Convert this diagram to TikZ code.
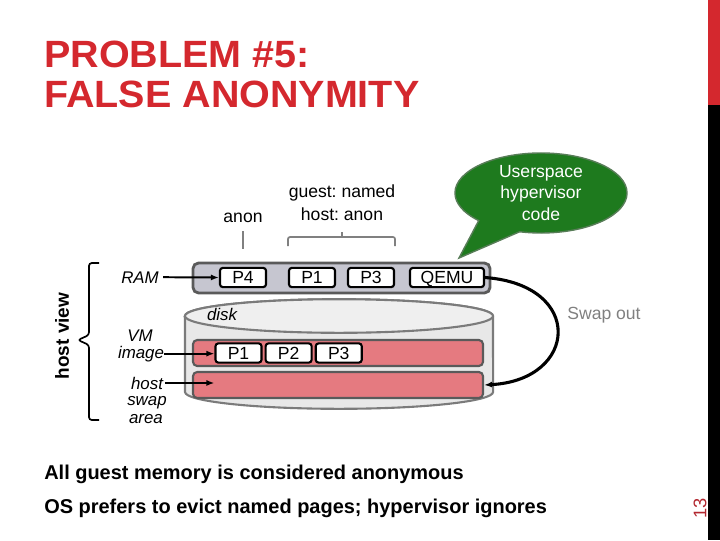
\documentclass[tikz,border=0pt]{standalone}
\usepackage{fontspec}
\setmainfont{Liberation Sans}
\usetikzlibrary{positioning,calc,shapes.callouts,arrows.meta}
\AtBeginDocument{\frenchspacing}

\definecolor{titlered}{RGB}{212,40,46}
\definecolor{pagered}{RGB}{178,40,48}
\definecolor{bubblegreen}{RGB}{30,122,30}
\definecolor{ramgray}{RGB}{198,198,208}
\definecolor{diskgray}{RGB}{232,232,232}
\definecolor{barpink}{RGB}{229,122,128}
\definecolor{edgegray}{RGB}{90,90,90}

\begin{document}
\begin{tikzpicture}[x=0.025cm, y=-0.025cm,
  >={Latex[length=2mm]},
  every node/.style={align=center},
  lbl/.style={font=\fontsize{12.5}{12.5}\selectfont, inner sep=0pt},
  ilbl/.style={font=\fontsize{12}{12}\selectfont\itshape, inner sep=0pt, anchor=base},
  pbox/.style={draw, line width=1.5pt, rounded corners=2pt, fill=white, font=\fontsize{12.5}{12.5}\selectfont,
               minimum width=1.15cm, minimum height=0.48cm, inner sep=0pt, text height=9pt, text depth=0pt},
  bar/.style={draw=edgegray, line width=1.5pt, fill=barpink, rounded corners=3pt,
              minimum width=7.25cm, minimum height=0.65cm, inner sep=0pt},
  bracket/.style={gray, line width=1.2pt, rounded corners=1.5pt},
  note/.style={font=\fontsize{14.2}{14.2}\selectfont\bfseries, inner sep=0pt, anchor=base west}
]
\useasboundingbox (0,0) rectangle (720,540);

% --- Title and slide frame ---
\node[anchor=north west, align=left, inner sep=0pt, xscale=1.04, text=titlered, font=\fontsize{27}{28.4}\selectfont\bfseries] (title) at (44,41)
  {PROBLEM \#5:\\FALSE ANONYMITY};
\fill[titlered] (708,0) rectangle (720,105);
\fill[black] (708,105) rectangle (720,540);
\node[rotate=90, text=pagered, font=\fontsize{13}{13}\selectfont, inner sep=0pt] (pagenum) at (700,508) {13};

% --- Disk cylinder ---
\draw[draw=edgegray!80, line width=1.5pt, fill=diskgray]
  (185,316) -- (185,392) arc[start angle=180, end angle=360, x radius=3.85cm, y radius=0.42cm]
  -- (493,316) arc[start angle=0, end angle=180, x radius=3.85cm, y radius=0.42cm] -- cycle;
\draw[draw=edgegray!80, line width=1.5pt, fill=diskgray!70] (339,316) ellipse[x radius=3.85cm, y radius=0.42cm];
\node[ilbl] (disk) at (222,320) {disk};

\node[bar] (vmbar) at (338,353) {};
\node[bar] (swapbar) at (338,385) {};

\node[pbox] (p1d) at (238.5,353) {P1};
\node[pbox, right=0.05cm of p1d] (p2d) {P2};
\node[pbox, right=0.05cm of p2d] (p3d) {P3};

% --- RAM ---
\node[draw=edgegray, line width=2pt, fill=ramgray, rounded corners=4pt, minimum width=7.425cm, minimum height=0.75cm] (ram) at (341.5,278) {};
\node[pbox] (p4) at (243,277.5) {P4};
\node[pbox] (p1) at (312,277.5) {P1};
\node[pbox] (p3) at (371,277.5) {P3};
\node[pbox, minimum width=1.85cm] (qemu) at (447,277.5) {QEMU};

% --- Left labels ---
\node[ilbl] (ramlbl) at (140,283) {RAM};
\node[ilbl] (vmlbl) at (140,341) {VM};
\node[ilbl] (imglbl) at (141,358) {image};
\node[ilbl] (hostlbl) at (147,389) {host};
\node[ilbl] (swaplbl) at (147,405) {swap};
\node[ilbl] (arealbl) at (146,423) {area};

\draw[->, line width=1.4pt] (ramlbl.east) ++(4,0) -- (p4.west);
\draw[->, line width=1.4pt] (imglbl.east) -- (imglbl.east -| p1d.west);
\draw[->, line width=1.4pt] (hostlbl.east) ++(2,0) -- (hostlbl.east -| p1d.west);

\draw[line width=1.2pt, rounded corners=2pt] (99,263) -- (89,263) -- (89,335) -- (78,340) -- (89,345) -- (89,420) -- (99,420);
\node[rotate=90, font=\fontsize{13.5}{13.5}\selectfont\bfseries, inner sep=0pt] (hostview) at (62,336) {host view};

% --- Page labels above RAM ---
\node[lbl] (anon) at (243,218) {anon};
\node[lbl] (guest) at (342,203) {guest: named\\[4pt]host: anon};
\draw[bracket] (anon.south) ++(0,8) -- ++(0,18);
\draw[bracket] (p1.west |- 0,246) -- (p1.west |- 0,237) -- (p3.east |- 0,237) -- (p3.east |- 0,246);
\draw[bracket] (guest.south |- 0,237) -- ++(0,-5);

% --- Callout ---
\node[ellipse callout, draw=gray!60!bubblegreen, line width=1pt, fill=bubblegreen, text=white,
      font=\fontsize{12.5}{15}\selectfont, minimum width=4.3cm, minimum height=2cm, inner sep=0pt,
      callout absolute pointer={(459,258)}, callout pointer arc=32] (bubble) at (541,193)
      {Userspace\\hypervisor\\code};

% --- Swap out ---
\draw[->, line width=2.2pt] (qemu.east) .. controls (585,285) and (578,380) .. (swapbar.east);
\node[lbl, text=gray] (swapout) at (604,315) {Swap out};

% --- Bottom notes ---
\node[note] (note1) at (44,479) {All guest memory is considered anonymous};
\node[note] (note2) at (44,513) {OS prefers to evict named pages; hypervisor ignores};

\end{tikzpicture}
\end{document}
